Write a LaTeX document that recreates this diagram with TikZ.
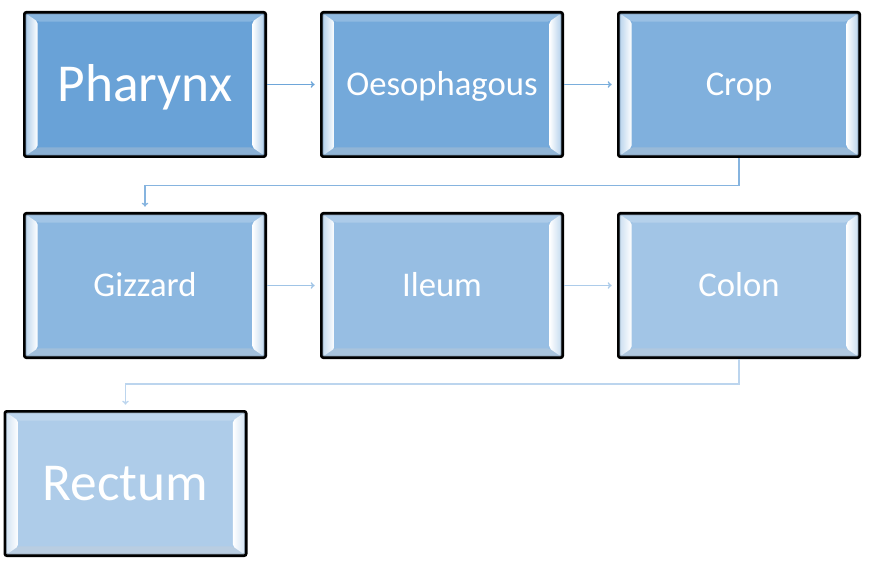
\documentclass[tikz,border=0pt]{standalone}
\usepackage{fontspec}
\setmainfont{Carlito}
\usetikzlibrary{arrows.meta}
\definecolor{organA}{HTML}{69A2D7}
\definecolor{organB}{HTML}{74A9DA}
\definecolor{organC}{HTML}{80B0DD}
\definecolor{organD}{HTML}{8BB7E0}
\definecolor{organE}{HTML}{97BEE3}
\definecolor{organF}{HTML}{A2C5E6}
\definecolor{organG}{HTML}{AECCE9}
\definecolor{linkA}{HTML}{6EA6D9}
\definecolor{linkB}{HTML}{7AAEDC}
\definecolor{linkC}{HTML}{86B4DF}
\definecolor{linkD}{HTML}{A0C4E6}
\definecolor{linkE}{HTML}{ADCCEA}
\definecolor{linkF}{HTML}{BCD5EE}
\begin{document}
\begin{tikzpicture}[x=0.75pt,y=-0.75pt,organ node/.style={draw=black, line width=2pt, fill=#1, rounded corners=1.5pt, minimum width=181pt, minimum height=108.25pt, inner sep=0pt, text=white, font=\fontsize{26}{30}\selectfont, text height=16.7pt, text depth=0pt, path picture={\coordinate (pnw) at (path picture bounding box.north west); \coordinate (pne) at (path picture bounding box.north east); \coordinate (psw) at (path picture bounding box.south west); \coordinate (pse) at (path picture bounding box.south east); \fill[#1!80!white] (pnw) -- (pne) -- ([shift={(-10pt,-7pt)}]pne) -- ([shift={(10pt,-7pt)}]pnw) -- cycle; \fill[#1!85!gray!80!white] (psw) -- (pse) -- ([shift={(-10pt,7pt)}]pse) -- ([shift={(10pt,7pt)}]psw) -- cycle; \shade[left color=#1!60!white, right color=white] (pnw) -- ([shift={(10pt,-7pt)}]pnw) -- ([shift={(10pt,7pt)}]psw) -- (psw) -- cycle; \shade[left color=white, right color=#1!60!white] (pne) -- ([shift={(-10pt,-7pt)}]pne) -- ([shift={(-10pt,7pt)}]pse) -- (pse) -- cycle; \draw[#1!55!gray, line width=1pt] ([shift={(1pt,-1pt)}]pnw) rectangle ([shift={(-1pt,1pt)}]pse);}},big node/.style={font=\fontsize{40}{48}\selectfont, text height=25.8pt},link/.style={-{To[length=3pt,width=5pt]}, line width=1pt, shorten >=4pt}]%
  % Row 1%
\node[organ node=organA, big node] (pharynx) at (145,84.5) {Pharynx};%
\node[organ node=organB] (oesophagous) at (442,84.5) {Oesophagous};%
\node[organ node=organC] (crop) at (739,84.5) {Crop};%
  % Row 2%
\node[organ node=organD] (gizzard) at (145,285.5) {Gizzard};%
\node[organ node=organE] (ileum) at (442,285.5) {Ileum};%
\node[organ node=organF] (colon) at (739,285.5) {Colon};%
  % Row 3%
\node[organ node=organG, big node] (rectum) at (125.5,483.5) {Rectum};%
  % Links%
\draw[link, linkA] (pharynx) -- (oesophagous);%
\draw[link, linkB] (oesophagous) -- (crop);%
\draw[link, linkC] (crop.south) -- ++(0,27.5) -| (gizzard.north);%
\draw[link, linkD] (gizzard) -- (ileum);%
\draw[link, linkE] (ileum) -- (colon);%
\draw[link, linkF] (colon.south) -- ++(0,25) -| (rectum.north);%
\path[use as bounding box] (0,0) rectangle (881,577);%
\end{tikzpicture}
\end{document}
